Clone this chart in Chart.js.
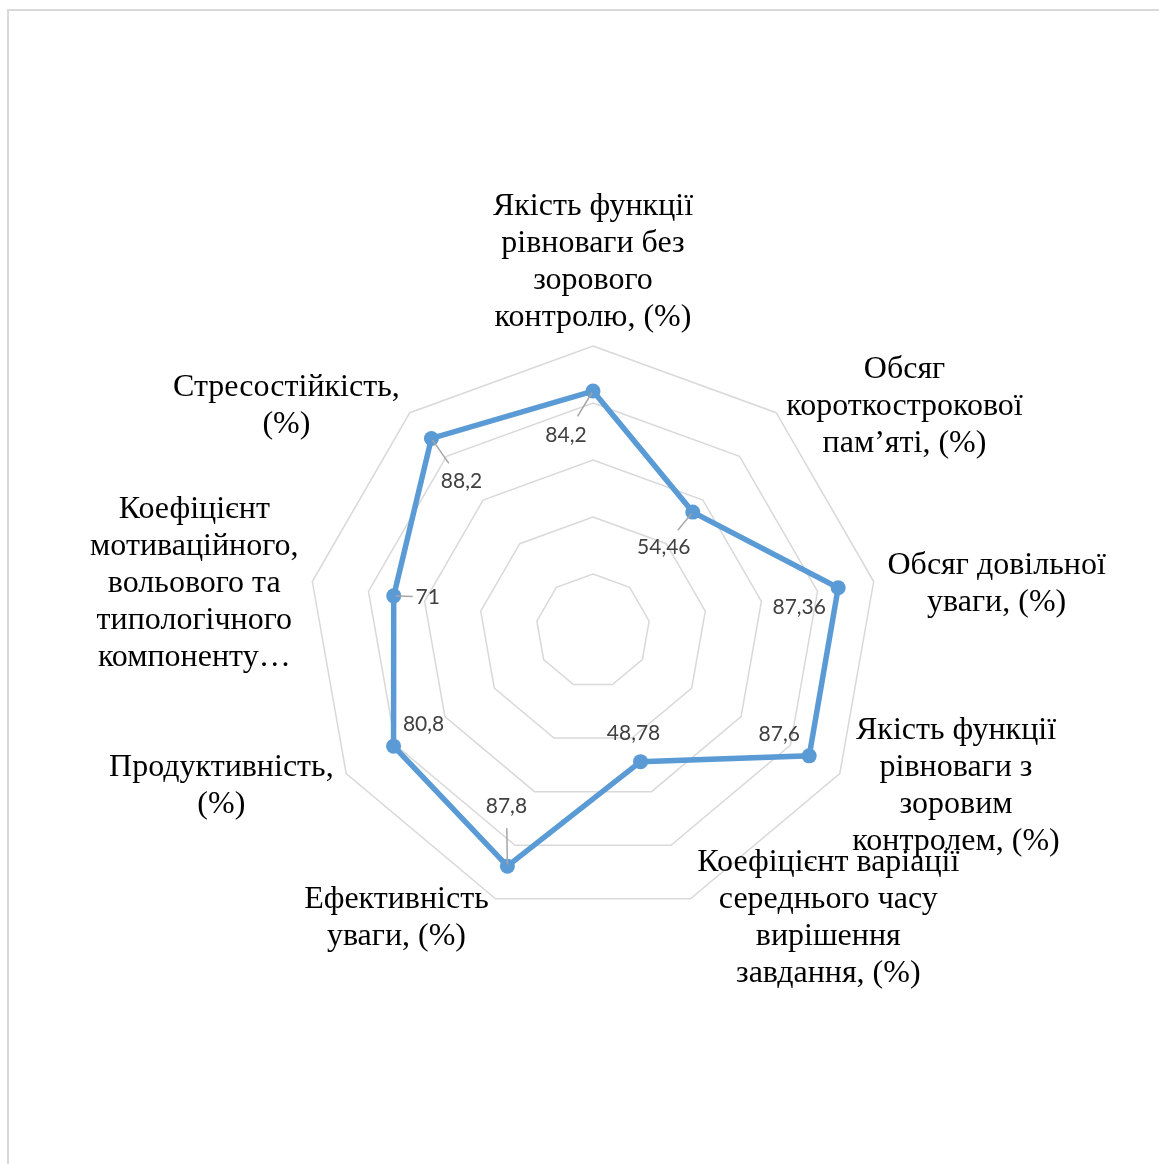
<!DOCTYPE html>
<html>
<head>
<meta charset="utf-8">
<script src="https://cdn.jsdelivr.net/npm/chart.js@4.4.0/dist/chart.umd.min.js"></script>
<style>
    body { margin: 0; background: #fff; }
    #frame { position: absolute; left: 7px; top: 9px; width: 1200px; height: 1200px; border: 2px solid #d9d9d9; }
    #myChart { position: absolute; left: 0; top: 0; }
</style>
</head>
<body>
<div id="frame"></div>
<canvas id="myChart" width="1159" height="1164"></canvas>
<script>
// categories (line breaks as in the original)
const labels = [
    ['Якість функції', 'рівноваги без', 'зорового', 'контролю, (%)'],
    ['Обсяг', 'короткострокової', 'пам’яті, (%)'],
    ['Обсяг довільної', 'уваги, (%)'],
    ['Якість функції', 'рівноваги з', 'зоровим', 'контролем, (%)'],
    ['Коефіцієнт варіації', 'середнього часу', 'вирішення', 'завдання, (%)'],
    ['Ефективність', 'уваги, (%)'],
    ['Продуктивність,', '(%)'],
    ['Коефіцієнт', 'мотиваційного,', 'вольового та', 'типологічного', 'компоненту…'],
    ['Стресостійкість,', '(%)']
];

const values = [84.2, 54.46, 87.36, 87.6, 48.78, 87.8, 80.8, 71, 88.2];

// value text as printed (decimal comma)
const valueText = ['84,2', '54,46', '87,36', '87,6', '48,78', '87,8', '80,8', '71', '88,2'];

const scaleMin = 0;
const scaleMax = 100;
const scaleStep = 20;

// where each data label sits relative to its point, and whether a leader line is drawn
const dataLabelOffsets = [
    { dx: -27, dy: 44, leader: true },
    { dx: -29, dy: 35, leader: true },
    { dx: -39, dy: 19, leader: false },
    { dx: -30, dy: -22, leader: false },
    { dx: -7, dy: -28, leader: false },
    { dx: -1, dy: -60, leader: true },
    { dx: 30, dy: -22, leader: false },
    { dx: 34, dy: 1, leader: true },
    { dx: 30, dy: 43, leader: true }
];

const labelPlugin = {
    id: 'labelPlugin',
    afterDatasetsDraw(chart) {
        const ctx = chart.ctx;
        const scale = chart.scales.r;
        const meta = chart.getDatasetMeta(0);
        const n = labels.length;

        // category labels around the web
        ctx.save();
        ctx.font = '32px "Liberation Serif", "Times New Roman", serif';
        ctx.fillStyle = '#000';
        ctx.textAlign = 'center';
        ctx.textBaseline = 'middle';
        const lineH = 37;
        for (let i = 0; i < n; i++) {
            const p = scale.getPointPosition(i, scale.drawingArea);
            const ang = i * 2 * Math.PI / n;
            const s = Math.sin(ang), c = Math.cos(ang);
            const lines = labels[i];
            let maxW = 0;
            lines.forEach(l => { maxW = Math.max(maxW, ctx.measureText(l).width); });
            const blockH = lines.length * lineH;
            let cx, cy;
            if (Math.abs(s) < 0.01) {
                cx = p.x;
                cy = c > 0 ? p.y - 10 - blockH / 2 : p.y + 10 + blockH / 2;
            } else {
                const gap = 3 + 11 * Math.abs(s);
                cx = s > 0 ? p.x + gap + maxW / 2 : p.x - gap - maxW / 2;
                cy = p.y - 15 * c + 5;
            }
            lines.forEach((l, k) => {
                ctx.fillText(l, cx, cy - blockH / 2 + lineH / 2 + k * lineH);
            });
        }
        ctx.restore();

        // data labels with leader lines
        ctx.save();
        ctx.font = '21px Lato, "Open Sans", sans-serif';
        ctx.fillStyle = '#404040';
        ctx.textAlign = 'center';
        ctx.textBaseline = 'middle';
        ctx.strokeStyle = '#a6a6a6';
        ctx.lineWidth = 1.5;
        meta.data.forEach((pt, i) => {
            const o = dataLabelOffsets[i];
            const lx = pt.x + o.dx, ly = pt.y + o.dy;
            if (o.leader) {
                const len = Math.hypot(o.dx, o.dy);
                const ux = o.dx / len, uy = o.dy / len;
                const gap = Math.abs(o.dx) > Math.abs(o.dy) * 1.5 ? 15 : 22;
                ctx.beginPath();
                ctx.moveTo(pt.x + ux * 2, pt.y + uy * 2);
                ctx.lineTo(lx - ux * gap, ly - uy * gap);
                ctx.stroke();
            }
            ctx.fillText(valueText[i], lx, ly);
        });
        ctx.restore();
    }
};

let myChart = document.getElementById('myChart').getContext('2d');

let radarChart = new Chart(myChart, {
    type: 'radar',
    data: {
        labels: labels,
        datasets: [{
            data: values,
            borderColor: '#5b9bd5',
            backgroundColor: '#5b9bd5',
            borderWidth: 5.5,
            pointRadius: 7.5,
            pointBackgroundColor: '#5b9bd5',
            pointBorderWidth: 0,
            fill: false
        }]
    },
    options: {
        responsive: false,
        animation: false,
        layout: {
            padding: { left: 308, top: 346, right: 281, bottom: 248 }
        },
        plugins: {
            legend: { display: false },
            tooltip: { enabled: false }
        },
        scales: {
            r: {
                min: scaleMin,
                max: scaleMax,
                ticks: { stepSize: scaleStep, display: false },
                grid: { color: '#d9d9d9', lineWidth: 1.5 },
                angleLines: { display: false },
                pointLabels: { display: false }
            }
        }
    },
    plugins: [labelPlugin]
});
</script>
</body>
</html>
